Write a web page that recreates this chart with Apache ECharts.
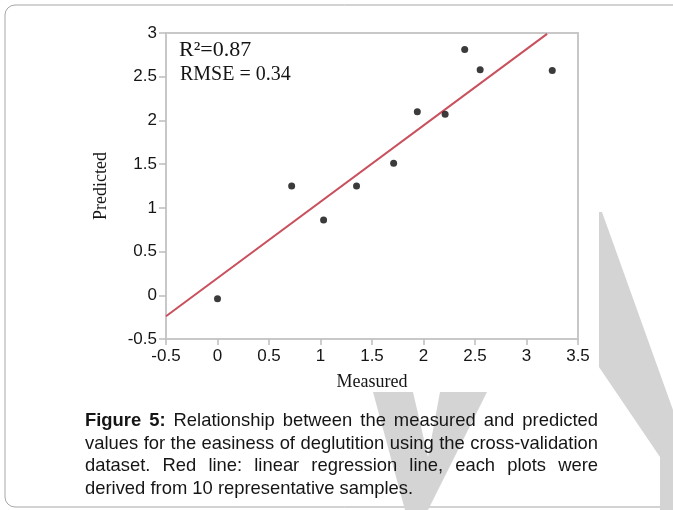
<!DOCTYPE html>
<html>
<head>
<meta charset="utf-8">
<script src="https://cdn.jsdelivr.net/npm/echarts@6/dist/echarts.min.js"></script>
<style>
  html, body { margin: 0; padding: 0; background: #fff; }
  #wrap { position: relative; width: 673px; height: 510px; overflow: hidden; }
  #chart { position: absolute; left: 0; top: 0; width: 673px; height: 510px; }
  #caption {
    position: absolute; left: 85px; top: 409px; width: 513px;
    font-family: "Liberation Sans", Arial, sans-serif; font-size: 18.4px; line-height: 22.5px;
    text-align: justify; color: #151515;
  }
</style>
</head>
<body>
<div id="wrap">
  <div id="chart"></div>
  <div id="caption"><b>Figure 5:</b> Relationship between the measured and predicted values for the easiness of deglutition using the cross-validation dataset. Red line: linear regression line, each plots were derived from 10 representative samples.</div>
</div>
<script>
const xTicks = [-0.5, 0, 0.5, 1, 1.5, 2, 2.5, 3, 3.5];
const yTicks = [-0.5, 0, 0.5, 1, 1.5, 2, 2.5, 3];
const measured = [0.0, 0.72, 1.03, 1.35, 1.71, 1.94, 2.21, 2.40, 2.55, 3.25];
const predicted = [-0.04, 1.25, 0.86, 1.25, 1.51, 2.10, 2.07, 2.81, 2.58, 2.57];
const fitX = [-0.5, 3.2];
const fitY = [-0.24, 2.99];
const statLabels = ["R\u00b2=0.87", "RMSE = 0.34"];

const serif = '"Liberation Serif", "Times New Roman", serif';
const sans = '"Liberation Sans", Arial, sans-serif';
const frameGray = "#c8c8c8";

const chart = echarts.init(document.getElementById("chart"), null, { renderer: "canvas" });

chart.setOption({
  animation: false,
  backgroundColor: "#fff",
  grid: {
    left: 166, top: 33, width: 412, height: 306,
    show: true, borderColor: frameGray, borderWidth: 2, backgroundColor: "#fff",
  },
  xAxis: {
    type: "value",
    min: xTicks[0],
    max: xTicks[xTicks.length - 1],
    interval: xTicks[1] - xTicks[0],
    name: "Measured",
    nameLocation: "middle",
    nameGap: 34,
    nameTextStyle: { fontFamily: serif, fontSize: 18, color: "#151515" },
    axisLine: { show: true, onZero: false, lineStyle: { color: frameGray, width: 2 } },
    axisTick: { show: true, length: 6, lineStyle: { color: "#bdbdbd", width: 1.5 } },
    axisLabel: { fontFamily: sans, fontSize: 17, color: "#151515", margin: 9 },
    splitLine: { show: false },
  },
  yAxis: {
    type: "value",
    min: yTicks[0],
    max: yTicks[yTicks.length - 1],
    interval: yTicks[1] - yTicks[0],
    name: "Predicted",
    nameLocation: "middle",
    nameGap: 56,
    nameTextStyle: { fontFamily: serif, fontSize: 18, color: "#151515" },
    axisLine: { show: true, onZero: false, lineStyle: { color: frameGray, width: 2 } },
    axisTick: { show: true, length: 7, lineStyle: { color: "#bdbdbd", width: 1.5 } },
    axisLabel: { fontFamily: sans, fontSize: 17, color: "#151515", margin: 9 },
    splitLine: { show: false },
  },
  graphic: [
    // outer rounded frame of the figure box
    {
      type: "rect", z: 0, silent: true,
      shape: { x: 5, y: 5, width: 720, height: 502, r: 10 },
      style: { fill: "none", stroke: "#a6a6a6", lineWidth: 1 },
    },
    // grey watermark strokes behind the caption
    {
      type: "polygon", z: 0, silent: true,
      shape: { points: [[373, 392], [413, 392], [428, 457], [440, 392], [487, 392], [428, 510], [405, 510]] },
      style: { fill: "#d4d4d4" },
    },
    {
      type: "polygon", z: 0, silent: true,
      shape: { points: [[599, 212], [602, 212], [673, 410], [673, 510], [660, 510], [660, 457], [599, 367]] },
      style: { fill: "#d4d4d4" },
    },
    {
      type: "text", z: 10, x: 179, y: 50,
      style: { text: statLabels[0], font: "22px " + serif, fill: "#151515", verticalAlign: "middle" },
    },
    {
      type: "text", z: 10, x: 180, y: 75,
      style: { text: statLabels[1], font: "20px " + serif, fill: "#151515", verticalAlign: "middle" },
    },
  ],
  series: [
    {
      type: "line",
      data: fitX.map((x, i) => [x, fitY[i]]),
      showSymbol: false,
      lineStyle: { color: "#c9505d", width: 2 },
      z: 3,
    },
    {
      type: "scatter",
      data: measured.map((x, i) => [x, predicted[i]]),
      symbolSize: 7,
      itemStyle: { color: "#0a0a0a" },
      z: 4,
    },
  ],
});
</script>
</body>
</html>
